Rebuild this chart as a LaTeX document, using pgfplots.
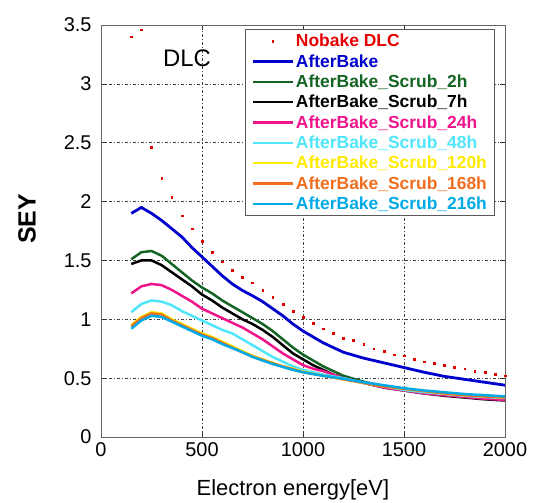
\documentclass[border=0pt]{standalone}
\usepackage{fontspec}
\setmainfont{Liberation Sans}
\usepackage{pgfplots}
\pgfplotsset{compat=1.18}

\definecolor{cNobake}{RGB}{230,0,0}
\definecolor{cBake}{RGB}{0,0,205}
\definecolor{c2h}{RGB}{20,100,35}
\definecolor{c7h}{RGB}{0,0,0}
\definecolor{c24h}{RGB}{240,20,140}
\definecolor{c48h}{RGB}{80,230,250}
\definecolor{c120h}{RGB}{255,235,0}
\definecolor{c168h}{RGB}{240,110,30}
\definecolor{c216h}{RGB}{0,170,230}

\begin{document}
\begin{tikzpicture}
\begin{axis}[
    width=404bp, height=412bp, scale only axis,
    xmin=0, xmax=2000, ymin=0, ymax=3.5,
    xtick={0,500,...,2000}, ytick={0,0.5,...,3.5},
    /pgf/number format/assume math mode=true,
    /pgf/number format/set thousands separator={},
    ticklabel style={font=\fontsize{20}{22}\selectfont},
    yticklabel style={xshift=-6bp},
    xticklabel style={yshift=-2bp},
    tick align=inside, major tick length=5bp,
    tick style={black!80, line width=0.6bp},
    axis line style={black!60, line width=0.8bp},
    grid=major,
    major grid style={black!75, line width=0.6bp, dash pattern=on 3bp off 2bp on 1bp off 2bp},
    xlabel={Electron energy[eV]},
    xlabel style={font=\fontsize{22}{24}\selectfont, at={(axis description cs:0.475,0)}, anchor=base, yshift=-58bp},
    ylabel={SEY},
    ylabel style={font=\fontsize{25}{27}\selectfont\bfseries, at={(axis description cs:-0.183,0.529)}, anchor=center},
    legend style={at={(rel axis cs:0.975,0.99)}, anchor=north east,
        draw=black!65, line width=1bp, fill=white,
        font=\fontsize{17.5}{19}\selectfont\bfseries,
        row sep=3.2bp, inner xsep=6bp, inner ysep=3bp,
        nodes={inner sep=1.5bp}},
    legend cell align=left,
    legend image code/.code={\draw[mark repeat=2,mark phase=2,#1] plot coordinates {(0bp,0bp) (20bp,0bp) (40bp,0bp)};},
]
\addplot[only marks, mark=square*, mark size=0.9bp, color=cNobake] coordinates {
(150,3.40) (200,3.46) (250,2.46) (300,2.20) (350,2.04) (400,1.88) (450,1.77) (500,1.66)
(550,1.57) (600,1.49) (650,1.42) (700,1.36) (750,1.31) (800,1.25) (850,1.19) (900,1.13)
(950,1.07) (1000,1.02) (1050,0.965) (1100,0.92) (1150,0.88) (1200,0.84) (1250,0.82)
(1300,0.79) (1350,0.75) (1400,0.73) (1450,0.70) (1500,0.69) (1550,0.66) (1600,0.64)
(1650,0.63) (1700,0.61) (1750,0.59) (1800,0.58) (1850,0.56) (1900,0.55) (1950,0.535) (2000,0.52)};
\addlegendentry[text=cNobake]{Nobake DLC}
\addplot[color=cBake, line width=2.8bp] coordinates {
(150,1.90) (200,1.95) (250,1.90) (300,1.84) (350,1.77) (400,1.70) (450,1.61) (500,1.53)
(550,1.45) (600,1.37) (650,1.30) (700,1.245) (750,1.20) (800,1.15) (850,1.09) (900,1.03)
(950,0.96) (1000,0.90) (1100,0.80) (1200,0.72) (1300,0.67) (1400,0.63) (1500,0.59)
(1600,0.55) (1700,0.515) (1800,0.49) (1900,0.465) (2000,0.44)};
\addlegendentry[text=cBake]{AfterBake}
\addplot[color=c2h, line width=2.5bp] coordinates {
(150,1.51) (200,1.57) (250,1.58) (300,1.54) (350,1.47) (400,1.40) (450,1.33) (500,1.27)
(550,1.22) (600,1.16) (650,1.11) (700,1.06) (750,1.01) (800,0.96) (850,0.90) (900,0.83)
(950,0.76) (1000,0.70) (1050,0.65) (1100,0.60) (1150,0.56) (1200,0.52) (1300,0.47)
(1400,0.43) (1500,0.40) (1600,0.38) (1700,0.36) (1800,0.345) (1900,0.33) (2000,0.32)};
\addlegendentry[text=c2h]{AfterBake\_Scrub\_2h}
\addplot[color=c7h, line width=2.5bp] coordinates {
(150,1.47) (200,1.50) (250,1.50) (300,1.46) (350,1.40) (400,1.34) (450,1.28) (500,1.21)
(550,1.16) (600,1.10) (650,1.05) (700,1.00) (750,0.96) (800,0.91) (850,0.85) (900,0.78)
(950,0.71) (1000,0.66) (1050,0.61) (1100,0.57) (1150,0.53) (1200,0.50) (1300,0.46)
(1400,0.42) (1500,0.395) (1600,0.37) (1700,0.35) (1800,0.335) (1900,0.32) (2000,0.31)};
\addlegendentry[text=c7h]{AfterBake\_Scrub\_7h}
\addplot[color=c24h, line width=2.5bp] coordinates {
(150,1.22) (200,1.28) (250,1.30) (300,1.29) (350,1.25) (400,1.20) (450,1.15) (500,1.09)
(550,1.05) (600,1.01) (650,0.97) (700,0.93) (750,0.88) (800,0.83) (850,0.77) (900,0.71)
(950,0.66) (1000,0.61) (1050,0.58) (1100,0.56) (1200,0.50) (1300,0.46) (1400,0.42)
(1500,0.395) (1600,0.37) (1700,0.355) (1800,0.34) (1900,0.325) (2000,0.315)};
\addlegendentry[text=c24h]{AfterBake\_Scrub\_24h}
\addplot[color=c48h, line width=2.5bp] coordinates {
(150,1.06) (200,1.13) (250,1.16) (300,1.15) (350,1.12) (400,1.07) (450,1.03) (500,0.99)
(550,0.95) (600,0.91) (650,0.88) (700,0.83) (750,0.78) (800,0.73) (850,0.68) (900,0.64)
(950,0.60) (1000,0.57) (1100,0.53) (1200,0.50) (1300,0.46) (1400,0.43) (1500,0.40)
(1600,0.38) (1700,0.365) (1800,0.35) (1900,0.34) (2000,0.33)};
\addlegendentry[text=c48h]{AfterBake\_Scrub\_48h}
\addplot[color=c120h, line width=2.5bp] coordinates {
(150,0.95) (200,1.02) (250,1.06) (300,1.05) (350,1.00) (400,0.96) (450,0.92) (500,0.88)
(550,0.85) (600,0.81) (650,0.77) (700,0.73) (750,0.69) (800,0.66) (850,0.63) (900,0.60)
(950,0.58) (1000,0.555) (1100,0.52) (1200,0.49) (1300,0.46) (1400,0.43) (1500,0.41)
(1600,0.39) (1700,0.37) (1800,0.355) (1900,0.345) (2000,0.335)};
\addlegendentry[text=c120h]{AfterBake\_Scrub\_120h}
\addplot[color=c168h, line width=2.5bp] coordinates {
(150,0.94) (200,1.01) (250,1.05) (300,1.04) (350,0.99) (400,0.95) (450,0.91) (500,0.87)
(550,0.84) (600,0.80) (650,0.76) (700,0.72) (750,0.685) (800,0.655) (850,0.625) (900,0.60)
(950,0.575) (1000,0.55) (1100,0.52) (1200,0.49) (1300,0.46) (1400,0.43) (1500,0.41)
(1600,0.39) (1700,0.37) (1800,0.355) (1900,0.345) (2000,0.335)};
\addlegendentry[text=c168h]{AfterBake\_Scrub\_168h}
\addplot[color=c216h, line width=2.5bp] coordinates {
(150,0.92) (200,0.99) (250,1.03) (300,1.02) (350,0.98) (400,0.94) (450,0.90) (500,0.86)
(550,0.83) (600,0.79) (650,0.755) (700,0.72) (750,0.68) (800,0.65) (850,0.62) (900,0.595)
(950,0.57) (1000,0.55) (1100,0.52) (1200,0.495) (1300,0.465) (1400,0.44) (1500,0.415)
(1600,0.395) (1700,0.38) (1800,0.365) (1900,0.355) (2000,0.345)};
\addlegendentry[text=c216h]{AfterBake\_Scrub\_216h}
\node[font=\fontsize{24}{26}\selectfont] at (axis cs:426,3.22) {DLC};
\end{axis}
\pgfresetboundingbox
\path (current axis.south west) ++(-101bp,-66bp) rectangle ([shift={(34bp,25bp)}]current axis.north east);
\end{tikzpicture}
\end{document}
